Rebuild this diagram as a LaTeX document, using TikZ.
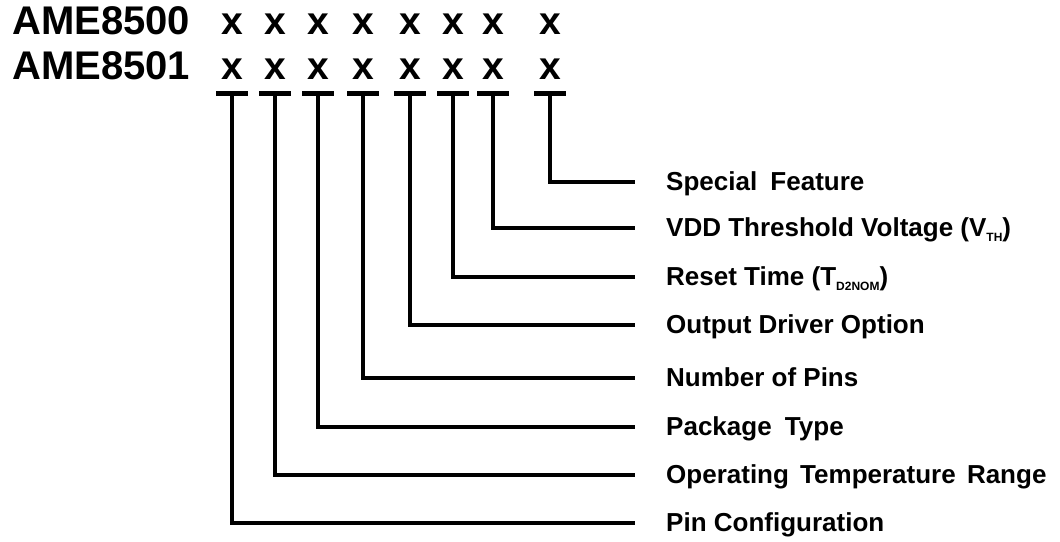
\documentclass[tikz,border=0pt]{standalone}
\usepackage{fontspec}
\setmainfont{Liberation Sans}
\usetikzlibrary{positioning}
\tikzstyle{title} = [anchor=base west, inner sep=0pt,
    font=\bfseries\fontsize{40}{40}\selectfont]
\tikzstyle{code} = [anchor=base, inner sep=0pt,
    font=\bfseries\fontsize{39}{39}\selectfont]
\tikzstyle{lbl} = [anchor=base west, inner sep=0pt,
    font=\bfseries\fontsize{26}{26}\selectfont]
\tikzstyle{wire} = [line width=4pt, line join=miter]
\tikzstyle{bar} = [line width=5pt]
\newcommand{\sub}[1]{\raisebox{-5pt}{\fontsize{12}{12}\selectfont #1}}

\begin{document}
\begin{tikzpicture}[x=1pt,y=-1pt]
  \useasboundingbox (0,0) rectangle (1060,541);

  \node[title] (p0) at (12,34) {AME8500};
  \node[title] (p1) at (12,79) {AME8501};

  % code letters, one column per field
  \foreach \i/\x in {1/232,2/275,3/318,4/363,5/410,6/453,7/493,8/550}{
    \node[code] (a\i) at (\x,34) {x};
    \node[code] (b\i) at (\x,79) {x};
    \coordinate (t\i) at (\x,93);
    \draw[bar] ([xshift=-16pt]t\i) -- ([xshift=16pt]t\i);
  }

  \coordinate (e1) at (635,523);
  \coordinate (e2) at (635,475);
  \coordinate (e3) at (635,427);
  \coordinate (e4) at (635,378);
  \coordinate (e5) at (635,325);
  \coordinate (e6) at (635,277);
  \coordinate (e7) at (635,228);
  \coordinate (e8) at (635,182);

  \node[lbl] (l1) at ([xshift=31pt,yshift=-8pt]e1) {Pin Configuration};
  \node[lbl] (l2) at ([xshift=31pt,yshift=-8pt]e2) {Operating\hspace{4pt} Temperature\hspace{4pt} Range};
  \node[lbl] (l3) at ([xshift=31pt,yshift=-8pt]e3) {Package\hspace{6pt} Type};
  \node[lbl] (l4) at ([xshift=31pt,yshift=-8pt]e4) {Number of Pins};
  \node[lbl] (l5) at ([xshift=31pt,yshift=-8pt]e5) {Output Driver Option};
  \node[lbl] (l6) at ([xshift=31pt,yshift=-8pt]e6) {Reset Time (T\sub{D2NOM})};
  \node[lbl] (l7) at ([xshift=31pt,yshift=-8pt]e7) {VDD Threshold Voltage (V\sub{TH})};
  \node[lbl] (l8) at ([xshift=31pt,yshift=-8pt]e8) {Special\hspace{6pt} Feature};

  \foreach \i in {1,...,8}
    \draw[wire] ([yshift=2pt]t\i) |- (e\i);
\end{tikzpicture}
\end{document}
